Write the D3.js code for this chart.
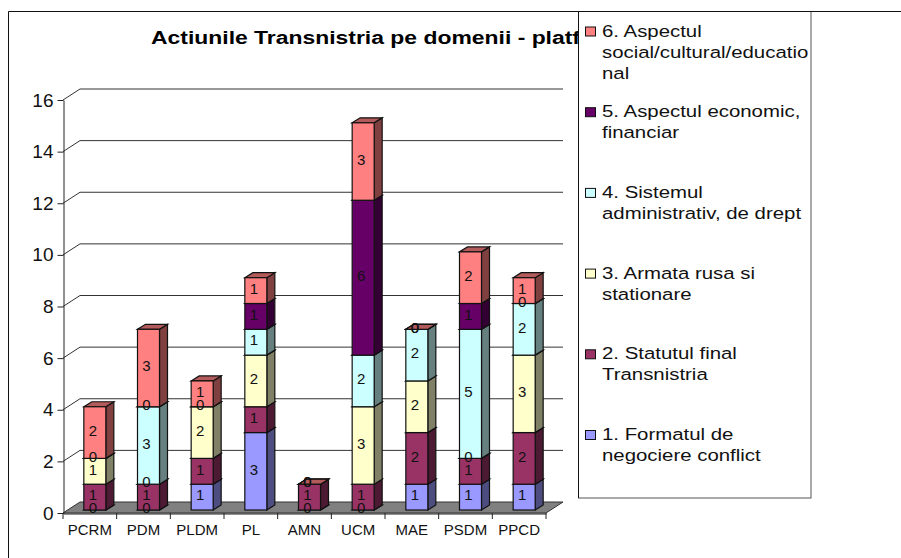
<!DOCTYPE html>
<html>
<head>
<meta charset="utf-8">
<script src="https://cdn.jsdelivr.net/npm/d3@7"></script>
<style>
body { margin: 0; background: #fff; }
svg { display: block; font-family: "Liberation Sans", Arial, sans-serif; }
</style>
</head>
<body>
<svg></svg>
<script>
let categories = ["PCRM", "PDM", "PLDM", "PL", "AMN", "UCM", "MAE", "PSDM", "PPCD"];

// null = no segment and no label in the picture, 0 = a printed "0"
let formatul = [0, 0, 1, 3, 0, 0, 1, 1, 1];
let statutul = [1, 1, 1, 1, 1, 1, 2, 1, 2];
let armata = [1, 0, 2, 2, null, 3, 2, 0, 3];
let sistemul = [0, 3, null, 1, null, 2, 2, 5, 2];
let economic = [null, 0, 0, 1, 0, 6, 0, 1, 0];
let social = [2, 3, 1, 1, 0, 3, 0, 2, 1];

let seriesValues = [formatul, statutul, armata, sistemul, economic, social];
let seriesColors = ["#9999ff", "#993366", "#ffffcc", "#ccffff", "#660066", "#ff8080"];
let legendLines = [
    ["1. Formatul de", "negociere conflict"],
    ["2. Statutul final", "Transnistria"],
    ["3. Armata rusa si", "stationare"],
    ["4. Sistemul", "administrativ, de drept"],
    ["5. Aspectul economic,", "financiar"],
    ["6. Aspectul", "social/cultural/educatio", "nal"]
];
let yTicks = [0, 2, 4, 6, 8, 10, 12, 14, 16];
let titleText = "Actiunile Transnistria pe domenii - platf";

let width = 901;
let height = 558;
let depthX = 17;
let depthY = 11;
let barDepthX = 8;
let barDepthY = 5;

let xScale = d3.scaleBand()
    .domain(categories)
    .range([63, 546])
    .paddingInner(0.59)
    .paddingOuter(0.295);

let yScale = d3.scaleLinear()
    .domain([0, 16])
    .range([513, 100]);

let svg = d3.select("svg")
    .attr("width", width)
    .attr("height", height);

// the source text is stretched sideways, so the title is fitted to its width
svg.append("text")
    .attr("x", 151)
    .attr("y", 44)
    .attr("font-size", 18)
    .attr("font-weight", "bold")
    .attr("textLength", 429)
    .attr("lengthAdjust", "spacingAndGlyphs")
    .text(titleText);

// floor
svg.append("polygon")
    .attr("points", [
        [63, yScale(0)],
        [63 + depthX, yScale(0) - depthY],
        [546 + depthX, yScale(0) - depthY],
        [546, yScale(0)]
    ].join(" "))
    .attr("fill", "#808080")
    .attr("stroke", "#333");

// gridlines: a diagonal on the side wall, then along the back wall
svg.selectAll(".grid")
    .data(yTicks.filter(d => d > 0))
    .enter()
    .append("path")
    .attr("class", "grid")
    .attr("d", d => "M63," + yScale(d) + "l" + depthX + "," + (-depthY) + "H" + (546 + depthX))
    .attr("fill", "none")
    .attr("stroke", "#333")
    .attr("stroke-width", 1);

let yAxis = d3.axisLeft(yScale)
    .tickValues(yTicks)
    .tickSize(6)
    .tickPadding(4)
    .tickSizeOuter(0);

let yG = svg.append("g")
    .attr("transform", "translate(63.5,0)")
    .call(yAxis);
yG.selectAll("text")
    .attr("font-size", 19)
    .attr("font-family", "Liberation Sans")
    .attr("fill", "#111");
yG.selectAll("line, path").attr("stroke", "#222");

let xAxis = d3.axisBottom(xScale)
    .tickSize(0)
    .tickPadding(11)
    .tickSizeOuter(0);

let xG = svg.append("g")
    .attr("transform", "translate(0," + (yScale(0) + 0.5) + ")")
    .call(xAxis);
xG.selectAll("text")
    .attr("font-size", 15)
    .attr("font-family", "Liberation Sans")
    .attr("fill", "#111");
xG.select("path").attr("stroke", "#222");

// tick marks sit between the categories
let step = xScale.step();
svg.selectAll(".xtick")
    .data(d3.range(categories.length + 1))
    .enter()
    .append("line")
    .attr("class", "xtick")
    .attr("x1", i => 63 + i * step)
    .attr("x2", i => 63 + i * step)
    .attr("y1", yScale(0))
    .attr("y2", yScale(0) + 6)
    .attr("stroke", "#222");

// stacked bars
let table = categories.map((c, i) => {
    let row = { category: c };
    seriesValues.forEach((s, k) => { row[k] = s[i]; });
    return row;
});

let stacked = d3.stack().keys(d3.range(seriesValues.length))(table);

let barShift = 5;
let baseShift = -3;

function shade(color, f) {
    let c = d3.rgb(color);
    return d3.rgb(c.r * f, c.g * f, c.b * f).formatHex();
}

stacked.forEach((layer, k) => {
    let g = svg.append("g");
    let shown = layer.filter(d => d.data[k] !== null);
    let bx = d => xScale(d.data.category) + barShift;
    let top = d => yScale(d[1]) + baseShift;
    let bottom = d => yScale(d[0]) + baseShift;
    let w = xScale.bandwidth();

    g.selectAll(".side")
        .data(shown)
        .enter()
        .append("polygon")
        .attr("points", d => [
            [bx(d) + w, top(d)],
            [bx(d) + w + barDepthX, top(d) - barDepthY],
            [bx(d) + w + barDepthX, bottom(d) - barDepthY],
            [bx(d) + w, bottom(d)]
        ].join(" "))
        .attr("fill", shade(seriesColors[k], 0.5))
        .attr("stroke", "#111")
        .attr("stroke-width", 1.2);

    g.selectAll(".top")
        .data(shown)
        .enter()
        .append("polygon")
        .attr("points", d => [
            [bx(d), top(d)],
            [bx(d) + barDepthX, top(d) - barDepthY],
            [bx(d) + w + barDepthX, top(d) - barDepthY],
            [bx(d) + w, top(d)]
        ].join(" "))
        .attr("fill", shade(seriesColors[k], 0.7))
        .attr("stroke", "#111")
        .attr("stroke-width", 1.2);

    g.selectAll(".front")
        .data(shown)
        .enter()
        .append("rect")
        .attr("x", bx)
        .attr("y", top)
        .attr("width", w)
        .attr("height", d => bottom(d) - top(d))
        .attr("fill", seriesColors[k])
        .attr("stroke", "#111")
        .attr("stroke-width", 1.2);
});

// value labels go on last so bars never cover them
stacked.forEach((layer, k) => {
    svg.append("g")
        .selectAll("text")
        .data(layer.filter(d => d.data[k] !== null))
        .enter()
        .append("text")
        .attr("x", d => xScale(d.data.category) + xScale.bandwidth() / 2 + barShift - 2)
        .attr("y", d => (yScale(d[0]) + yScale(d[1])) / 2 + baseShift - 2)
        .attr("dy", "0.35em")
        .attr("text-anchor", "middle")
        .attr("font-size", 15)
        .attr("fill", "#111")
        .text(d => d.data[k]);
});

// legend
svg.append("rect")
    .attr("x", 578.5)
    .attr("y", 11.5)
    .attr("width", 232.5)
    .attr("height", 486.5)
    .attr("fill", "#fff")
    .attr("stroke", "#555");

let legendY = d3.scaleLinear()
    .domain([0, 5])
    .range([435, 31.5]);

let legend = svg.selectAll(".legend")
    .data(legendLines)
    .enter()
    .append("g")
    .attr("class", "legend")
    .attr("transform", (d, i) => "translate(585," + legendY(i) + ")");

legend.append("rect")
    .attr("x", 0.5)
    .attr("y", -4.5)
    .attr("width", 10)
    .attr("height", 9)
    .attr("fill", (d, i) => seriesColors[i])
    .attr("stroke", "#111");

legend.selectAll("text")
    .data(d => d)
    .enter()
    .append("text")
    .attr("transform", (d, i) => "translate(17," + (5 + i * 21) + ") scale(1.2,1)")
    .attr("font-size", 17)
    .attr("fill", "#111")
    .text(d => d);

// outer frame, open on the right and at the bottom
svg.append("path")
    .attr("d", "M8.5," + height + "V11.5H" + width + "M578.5,11.5V498")
    .attr("fill", "none")
    .attr("stroke", "#111");
</script>
</body>
</html>
